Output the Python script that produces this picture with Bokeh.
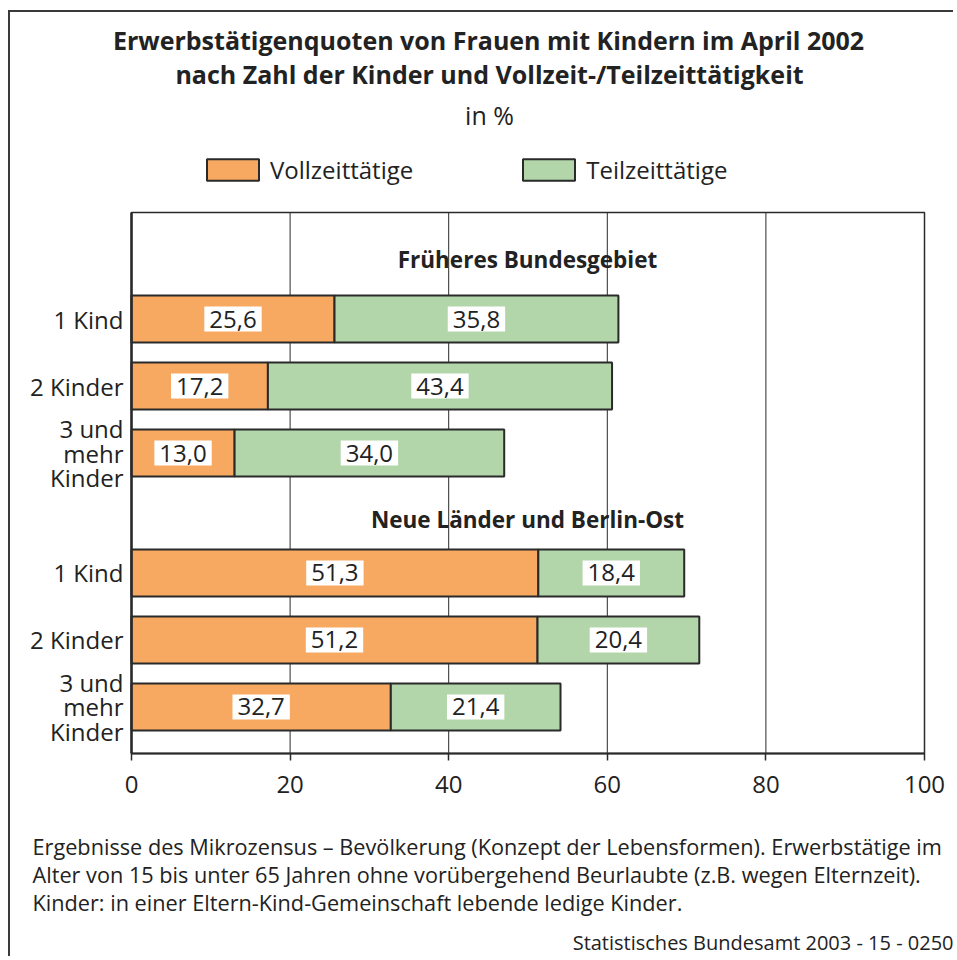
from bokeh.plotting import figure
from bokeh.models import Range1d, FixedTicker, Label, Legend, LegendItem
from bokeh.embed import file_html
from bokeh.resources import INLINE

# ---------------- data ----------------
groups = ["Früheres Bundesgebiet", "Neue Länder und Berlin-Ost"]
categories = ["1 Kind", "2 Kinder", "3 und\nmehr\nKinder"]
vollzeit = [25.6, 17.2, 13.0, 51.3, 51.2, 32.7]
teilzeit = [35.8, 43.4, 34.0, 18.4, 20.4, 21.4]
x_ticks = [0, 20, 40, 60, 80, 100]

title_lines = ["Erwerbstätigenquoten von Frauen mit Kindern im April 2002",
               "nach Zahl der Kinder und Vollzeit-/Teilzeittätigkeit"]
unit_text = "in %"
legend_labels = ["Vollzeittätige", "Teilzeittätige"]
note_lines = ["Ergebnisse des Mikrozensus – Bevölkerung (Konzept der Lebensformen). Erwerbstätige im",
              "Alter von 15 bis unter 65 Jahren ohne vorübergehend Beurlaubte (z.B. wegen Elternzeit).",
              "Kinder: in einer Eltern-Kind-Gemeinschaft lebende ledige Kinder."]
source_text = "Statistisches Bundesamt 2003 - 15 - 0250"

# ---------------- style / layout ----------------
FONT = "Open Sans"
TXT = "#222222"
ORANGE = "#F7A962"
GREEN = "#B2D6AA"
EDGE = "#2a2a2a"

W, H = 945, 946
FX0, FX1, FY0, FY1 = 131, 924, 212, 753   # plot box in page px
OX, OY = 10, 12                           # canvas origin in page px
ROW = 67.0
YMAX = (FY1 - FY0) / ROW
FIRST = 1.59
GROUP_STEP = 3.79
BAR_H = 0.70


def dx(px):
    return (px - FX0) / (FX1 - FX0) * 100.0


def dy(py):
    return (py - FY0) / ROW


ypos = [FIRST + g * GROUP_STEP + i for g in range(len(groups)) for i in range(len(categories))]
ylabels = [categories[i] for g in range(len(groups)) for i in range(len(categories))]
total = [v + t for v, t in zip(vollzeit, teilzeit)]

p = figure(width=W, height=H, output_backend="svg", toolbar_location=None,
           x_range=Range1d(dx(OX), dx(OX + W)), y_range=Range1d(dy(OY + H), dy(OY)),
           min_border=0, background_fill_color="white", border_fill_color="white",
           outline_line_color=None)
p.styles = {"border-left": "2px solid #3a3a3a", "border-top": "2px solid #3a3a3a",
            "margin-left": "8px", "margin-top": "10px"}

# plot box and vertical grid lines
p.segment(x0=x_ticks, y0=[0] * len(x_ticks), x1=x_ticks, y1=[YMAX] * len(x_ticks),
          line_color=EDGE, line_width=1)
p.quad(left=[0], right=[100], top=[0], bottom=[YMAX], fill_color=None,
       line_color=EDGE, line_width=1.5)

r_v = p.hbar(y=ypos, left=0, right=vollzeit, height=BAR_H, fill_color=ORANGE,
             line_color=EDGE, line_width=2)
r_t = p.hbar(y=ypos, left=vollzeit, right=total, height=BAR_H, fill_color=GREEN,
             line_color=EDGE, line_width=2)

p.xgrid.grid_line_color = None
p.ygrid.grid_line_color = None

# axes, fixed on the plot box
xa = p.xaxis[0]
xa.fixed_location = YMAX
xa.bounds = (0, 100)
xa.ticker = FixedTicker(ticks=x_ticks)
xa.axis_line_color = EDGE
xa.axis_line_width = 2
xa.major_tick_line_color = EDGE
xa.major_tick_line_width = 1.5
xa.major_tick_out = 7
xa.major_tick_in = 0
xa.minor_tick_line_color = None
xa.major_label_text_font = FONT
xa.major_label_text_font_size = "24px"
xa.major_label_text_color = TXT
xa.major_label_standoff = 15

ya = p.yaxis[0]
ya.fixed_location = 0
ya.bounds = (0, YMAX)
ya.ticker = FixedTicker(ticks=ypos)
ya.major_label_overrides = {y: lab for y, lab in zip(ypos, ylabels)}
ya.axis_line_color = EDGE
ya.axis_line_width = 2.5
ya.major_tick_line_color = None
ya.major_tick_out = 0
ya.major_tick_in = 0
ya.minor_tick_line_color = None
ya.major_label_text_font = FONT
ya.major_label_text_font_size = "24px"
ya.major_label_text_color = TXT
ya.major_label_text_line_height = 0.75
ya.major_label_standoff = 8

# value labels
for yv, v, t in zip(ypos, vollzeit, teilzeit):
    for left, val in ((0, v), (v, t)):
        p.add_layout(Label(x=left + val / 2, y=yv, text=f"{val:.1f}".replace(".", ","),
                           text_align="center", text_baseline="middle",
                           text_font=FONT, text_font_size="24px", text_color=TXT,
                           background_fill_color="white",
                           padding=dict(left=5, right=5, top=4, bottom=4)))


def label(text, px, py, size, bold=False, align="center"):
    p.add_layout(Label(x=dx(px), y=dy(py), text=text, text_align=align,
                       text_baseline="alphabetic", text_font=FONT,
                       text_font_style="bold" if bold else "normal",
                       text_font_size=size, text_color=TXT))


# group headings
for g, name in enumerate(groups):
    label(name, 527, [259, 519][g], "22.5px", bold=True)

# title
label(title_lines[0], 488, 39, "25px", bold=True)
label(title_lines[1], 489, 73, "25px", bold=True)
label(unit_text, 489, 114, "25px")

# notes
for k, line in enumerate(note_lines):
    label(line, 32, 846 + 28 * k, "21.7px", align="left")
label(source_text, 953, 942, "20px", align="right")

# legend (bar legend glyphs are drawn inset by 10 % on each side)
legend = Legend(items=[LegendItem(label=legend_labels[0], renderers=[r_v]),
                       LegendItem(label=legend_labels[1], renderers=[r_t])],
                orientation="horizontal", location=(200 - OX, (OY + H) - 186),
                glyph_width=65, glyph_height=27, label_standoff=5, spacing=103,
                padding=0, margin=0, border_line_color=None, background_fill_alpha=0,
                label_text_font=FONT, label_text_font_size="24px", label_text_color=TXT)
p.add_layout(legend, "center")

open("out.html", "w").write(file_html(p, INLINE))
